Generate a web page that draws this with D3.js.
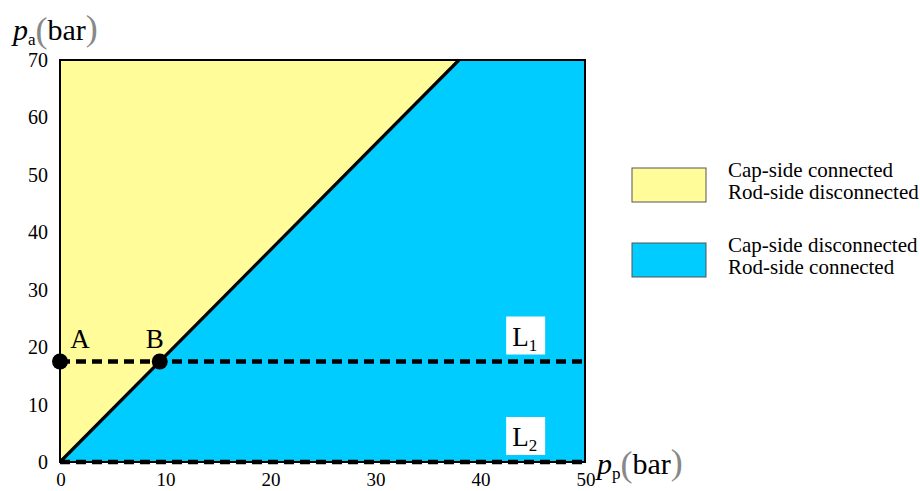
<!DOCTYPE html>
<html>
<head>
<meta charset="utf-8">
<script src="https://cdn.jsdelivr.net/npm/d3@7"></script>
<style>
  html, body { margin: 0; padding: 0; background: #fff; }
  svg { display: block; font-family: "Liberation Serif", "Times New Roman", serif; }
</style>
</head>
<body>
<svg id="chart" width="920" height="491"></svg>
<script>
// Axis ticks
const xTicks = [0, 10, 20, 30, 40, 50];
const yTicks = [0, 10, 20, 30, 40, 50, 60, 70];
const xDomain = [0, 50];
const yDomain = [0, 70];

// Switching boundary between the two regions (p_p, p_a)
const boundary = [[0, 0], [38, 70]];

// Regions
const regionNames = ["Cap-side connected|Rod-side disconnected", "Cap-side disconnected|Rod-side connected"];
const regionColors = ["#FFFC99", "#00CCFF"];
const yellowRegion = [[0, 0], [0, 70], [38, 70]];
const blueRegion = [[0, 0], [38, 70], [50, 70], [50, 0]];

// Load lines
const lineNames = ["1", "2"];
const lineLevels = [17.5, 0];

// Marked operating points
const pointNames = ["A", "B"];
const pointX = [0, 9.5];
const pointY = [17.5, 17.5];

const svg = d3.select("#chart");
const x = d3.scaleLinear().domain(xDomain).range([60, 585]);
const y = d3.scaleLinear().domain(yDomain).range([462, 60]);

// Regions
const area = d3.line().x(d => x(d[0])).y(d => y(d[1]));
svg.append("path").attr("d", area(yellowRegion) + "Z").attr("fill", regionColors[0]);
svg.append("path").attr("d", area(blueRegion) + "Z").attr("fill", regionColors[1]);

// Frame
svg.append("rect")
  .attr("x", x(0)).attr("y", y(70))
  .attr("width", x(50) - x(0)).attr("height", y(0) - y(70))
  .attr("fill", "none").attr("stroke", "#000").attr("stroke-width", 2);

// Boundary line
svg.append("path").attr("d", area(boundary))
  .attr("fill", "none").attr("stroke", "#000").attr("stroke-width", 3.2);

// Load lines (dashed)
lineLevels.forEach((lv, i) => {
  svg.append("line")
    .attr("x1", x(0)).attr("x2", x(50))
    .attr("y1", y(lv)).attr("y2", y(lv))
    .attr("stroke", "#000").attr("stroke-width", 4.5)
    .attr("stroke-dasharray", "10,6");
});

// Line labels with white boxes
lineLevels.forEach((lv, i) => {
  const cx = x(44.3);
  const cy = y(lv) - 26;
  svg.append("rect")
    .attr("x", cx - 19).attr("y", cy - 19)
    .attr("width", 39).attr("height", 38)
    .attr("fill", "#fff");
  const t = svg.append("text")
    .attr("x", cx - 13).attr("y", cy + 10)
    .attr("font-size", 27).attr("fill", "#000");
  t.append("tspan").text("L");
  t.append("tspan").attr("font-size", 17).attr("dy", 5).text(lineNames[i]);
});

// Points
pointNames.forEach((n, i) => {
  svg.append("circle")
    .attr("cx", x(pointX[i])).attr("cy", y(pointY[i]))
    .attr("r", 8).attr("fill", "#000");
  svg.append("text")
    .attr("x", x(pointX[i]) + (i === 0 ? 20 : -5))
    .attr("y", y(pointY[i]) - 14)
    .attr("text-anchor", "middle")
    .attr("font-size", 27).text(n);
});

// Tick labels
svg.append("g").selectAll("text").data(xTicks).join("text")
  .attr("x", d => x(d) + 1).attr("y", 486)
  .attr("text-anchor", "middle").attr("font-size", 19).text(d => d);
svg.append("g").selectAll("text").data(yTicks).join("text")
  .attr("x", 48).attr("y", d => y(d) + 7)
  .attr("text-anchor", "end").attr("font-size", 20).text(d => d);

// Axis titles
function axisTitle(tx, ty, sub) {
  const t = svg.append("text").attr("x", tx).attr("y", ty).attr("font-size", 30);
  t.append("tspan").attr("font-style", "italic").text("p");
  t.append("tspan").attr("font-size", 17).attr("dy", 5).text(sub);
  t.append("tspan").attr("font-size", 36).attr("dy", -3).attr("fill", "#888").text("(");
  t.append("tspan").attr("font-size", 30).attr("dy", -2).text("bar");
  t.append("tspan").attr("font-size", 36).attr("fill", "#888").text(")");
}
axisTitle(13, 40, "a");
axisTitle(597, 474, "p");

// Legend
regionNames.forEach((n, i) => {
  const ly = 168 + i * 75;
  svg.append("rect")
    .attr("x", 632).attr("y", ly).attr("width", 74).attr("height", 34)
    .attr("fill", regionColors[i]).attr("stroke", "#555").attr("stroke-width", 1);
  const lines = n.split("|");
  lines.forEach((s, j) => {
    svg.append("text")
      .attr("x", 728).attr("y", ly + 9 + j * 22)
      .attr("font-size", 21).text(s);
  });
});
</script>
</body>
</html>
